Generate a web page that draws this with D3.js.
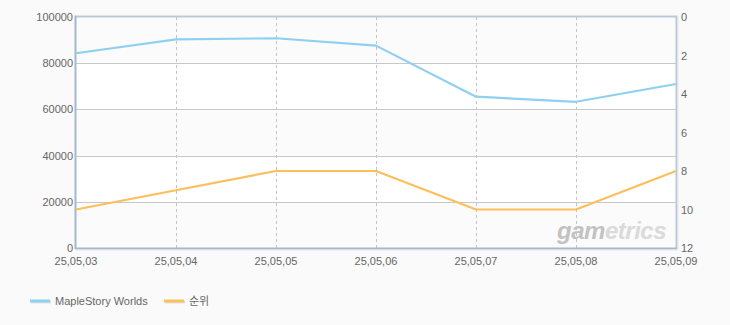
<!DOCTYPE html>
<html>
<head>
<meta charset="utf-8">
<script src="https://cdn.jsdelivr.net/npm/d3@7"></script>
<style>
  body { margin: 0; background: #fafafa; }
  text { font-family: "Liberation Sans", "Noto Sans CJK KR", sans-serif; }
</style>
</head>
<body>
<div id="chart"></div>
<script>
// data
const dates = ['25,05,03', '25,05,04', '25,05,05', '25,05,06', '25,05,07', '25,05,08', '25,05,09'];
const users = [84300, 90300, 90800, 87600, 65500, 63300, 71000];
const ranks = [10, 9, 8, 8, 10, 10, 8];
const leftTicks = [0, 20000, 40000, 60000, 80000, 100000];
const rightTicks = [0, 2, 4, 6, 8, 10, 12];
const seriesNames = ['MapleStory Worlds', '순위'];
const colors = ['#8fd0f0', '#fdbe5c'];

const W = 730, H = 325;
const m = {left: 76, right: 54, top: 17, bottom: 77};

const svg = d3.select('#chart').append('svg').attr('width', W).attr('height', H);

const x = d3.scalePoint().domain(dates).range([m.left, W - m.right]);
const y = d3.scaleLinear().domain([0, 100000]).range([H - m.bottom, m.top]);
const y2 = d3.scaleLinear().domain([0, 12]).range([m.top, H - m.bottom]);

// alternating bands
for (let i = 0; i < leftTicks.length - 1; i++) {
    svg.append('rect')
    .attr('x', m.left)
    .attr('y', y(leftTicks[i + 1]))
    .attr('width', W - m.right - m.left)
    .attr('height', y(leftTicks[i]) - y(leftTicks[i + 1]))
    .attr('fill', i % 2 == 0 ? '#fbfbfb' : '#ffffff');
}

// horizontal grid
svg.selectAll('.hgrid').data(leftTicks.slice(1, -1)).enter().append('line')
.attr('x1', m.left).attr('x2', W - m.right)
.attr('y1', d => Math.round(y(d)) + 0.5).attr('y2', d => Math.round(y(d)) + 0.5)
.attr('stroke', '#c8c8c8');

// vertical dashed grid
svg.selectAll('.vgrid').data(dates.slice(1, -1)).enter().append('line')
.attr('x1', d => Math.round(x(d)) + 0.5).attr('x2', d => Math.round(x(d)) + 0.5)
.attr('y1', m.top).attr('y2', H - m.bottom)
.attr('stroke', '#c4c4c4')
.attr('stroke-dasharray', '3,3');

// watermark
const wm = svg.append('text')
.attr('x', W - m.right - 10).attr('y', H - m.bottom - 9)
.attr('text-anchor', 'end')
.attr('font-size', '24px')
.attr('font-weight', 'bold')
.attr('font-style', 'italic')
.attr('letter-spacing', '-0.5');
wm.append('tspan').attr('fill', '#c2c2c2').text('gam');
wm.append('tspan').attr('fill', '#dadada').text('etrics');

// frame
const frame = '#b9c9da';
svg.append('line').attr('x1', m.left).attr('x2', W - m.right).attr('y1', m.top - 0.5).attr('y2', m.top - 0.5)
.attr('stroke', frame).attr('stroke-width', 2);
svg.append('line').attr('x1', W - m.right + 0.5).attr('x2', W - m.right + 0.5).attr('y1', m.top - 1.5).attr('y2', H - m.bottom + 1)
.attr('stroke', frame).attr('stroke-width', 2);
svg.append('line').attr('x1', W - m.right + 2).attr('x2', W - m.right + 2).attr('y1', m.top).attr('y2', H - m.bottom + 2)
.attr('stroke', '#e3e7ec');
svg.append('line').attr('x1', m.left - 0.5).attr('x2', m.left - 0.5).attr('y1', m.top - 1.5).attr('y2', H - m.bottom + 1)
.attr('stroke', '#a6b8cb').attr('stroke-width', 2);
svg.append('line').attr('x1', m.left - 1).attr('x2', W - m.right + 1).attr('y1', H - m.bottom + 0.5).attr('y2', H - m.bottom + 0.5)
.attr('stroke', '#a6b8cb').attr('stroke-width', 2);
svg.append('line').attr('x1', m.left).attr('x2', W - m.right + 2).attr('y1', H - m.bottom + 2).attr('y2', H - m.bottom + 2)
.attr('stroke', '#e3e7ec');

// axis labels
svg.selectAll('.ly').data(leftTicks).enter().append('text')
.attr('x', m.left - 3).attr('y', d => y(d) + 4)
.attr('text-anchor', 'end').attr('fill', '#666').attr('font-size', '11px')
.text(d => d);

svg.selectAll('.ry').data(rightTicks).enter().append('text')
.attr('x', W - m.right + 5).attr('y', d => y2(d) + 4)
.attr('fill', '#666').attr('font-size', '11px')
.text(d => d);

svg.selectAll('.lx').data(dates).enter().append('text')
.attr('x', d => x(d)).attr('y', H - m.bottom + 17)
.attr('text-anchor', 'middle').attr('fill', '#666').attr('font-size', '11px')
.text(d => d);

// lines
const line1 = d3.line().x((d, i) => x(dates[i])).y(d => y(d));
const line2 = d3.line().x((d, i) => x(dates[i])).y(d => y2(d));

svg.append('path').attr('d', line1(users)).attr('fill', 'none')
.attr('stroke', colors[0]).attr('stroke-width', 2.2).attr('stroke-linejoin', 'round');
svg.append('path').attr('d', line2(ranks)).attr('fill', 'none')
.attr('stroke', colors[1]).attr('stroke-width', 2.2).attr('stroke-linejoin', 'round');

// legend
const lx = [30, 164];
seriesNames.forEach((name, i) => {
    svg.append('line').attr('x1', lx[i] + 1).attr('x2', lx[i] + 21).attr('y1', 302).attr('y2', 302)
    .attr('stroke', '#e2e2e2').attr('stroke-width', 3);
    svg.append('line').attr('x1', lx[i]).attr('x2', lx[i] + 20).attr('y1', 301).attr('y2', 301)
    .attr('stroke', colors[i]).attr('stroke-width', 3);
    svg.append('text').attr('x', lx[i] + 25).attr('y', 305)
    .attr('fill', '#666').attr('font-size', '11px')
    .text(name);
});
</script>
</body>
</html>
